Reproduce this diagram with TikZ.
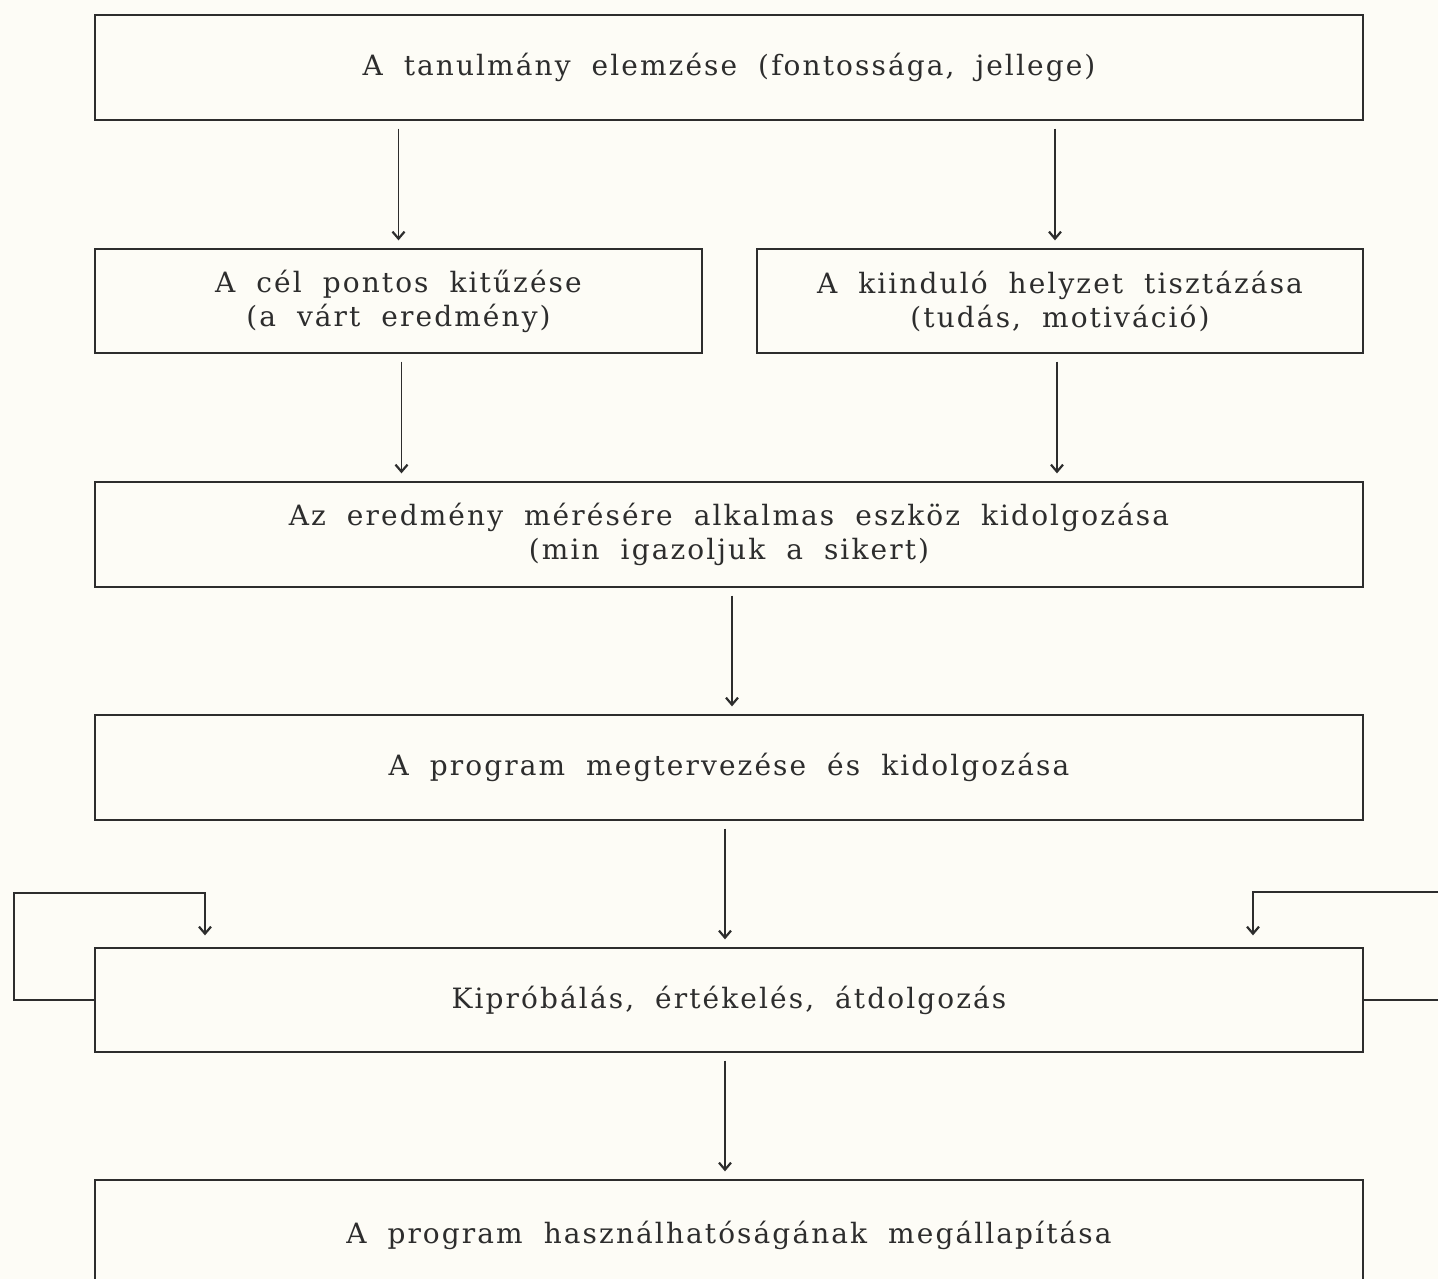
\documentclass[tikz,border=0pt]{standalone}
\usepackage{fontspec}
\setmainfont[LetterSpace=7.5]{DejaVu Serif}
\usetikzlibrary{arrows.meta}
\definecolor{ink}{RGB}{45,45,45}
\definecolor{paper}{RGB}{253,252,246}
\newcommand\bodyfont{\fontsize{28}{34}\selectfont\spaceskip=0.75em plus 0.1em\relax}
\begin{document}
\begin{tikzpicture}[x=1pt,y=-1pt,
  box/.style={draw=ink,line width=1.3pt,inner sep=0pt,font=\bodyfont,align=center,text=ink},
  tip/.style={-{Straight Barb[length=7pt,width=12pt,line width=2.2pt]}},
  conn/.style={draw=ink,line width=1.1pt,tip,shorten <=8pt,shorten >=8pt},
  loop/.style={draw=ink,line width=1.3pt,tip,shorten >=12pt},
]
\useasboundingbox (0,0) rectangle (1438,1279);
\fill[paper] (0,0) rectangle (1438,1279);
\clip (0,0) rectangle (1438,1279);

\node[box,minimum width=1268pt,minimum height=105pt] (b1) at (729,67.5) {A tanulmány elemzése (fontossága, jellege)};
\node[box,minimum width=607pt,minimum height=104pt] (b2) at (398.5,301) {A cél pontos kitűzése\\(a várt eredmény)};
\node[box,minimum width=606pt,minimum height=104pt] (b3) at (1060,301) {A kiinduló helyzet tisztázása\\(tudás, motiváció)};
\node[box,minimum width=1268pt,minimum height=105pt] (b4) at (729,534.5) {Az eredmény mérésére alkalmas eszköz kidolgozása\\(min igazoljuk a sikert)};
\node[box,minimum width=1268pt,minimum height=105pt] (b5) at (729,767.5) {A program megtervezése és kidolgozása};
\node[box,minimum width=1268pt,minimum height=104pt] (b6) at (729,1000) {Kipróbálás, értékelés, átdolgozás};
\node[box,minimum width=1268pt,minimum height=110pt] (b7) at (729,1235) {A program használhatóságának megállapítása};

\draw[conn] (b1.south -| b2.center) -- (b2.north);
\draw[conn] ([xshift=-5pt]b1.south -| b3.center) -- ([xshift=-5pt]b3.north);
\draw[conn] ([xshift=3pt]b2.south) -- ([xshift=3pt]b4.north -| b2.south);
\draw[conn] ([xshift=-3pt]b3.south) -- ([xshift=-3pt]b4.north -| b3.south);
\draw[conn] ([xshift=3pt]b4.south) -- ([xshift=3pt]b5.north);
\draw[conn] ([xshift=-4pt]b5.south) -- ([xshift=-4pt]b6.north);
\draw[conn] ([xshift=-4pt]b6.south) -- ([xshift=-4pt]b7.north);

\coordinate (lc) at (14,893);
\coordinate (la) at (205,893);
\draw[loop] (b6.west) -| (lc) -- (la) -- (la |- b6.north);
\coordinate (rc) at (1460,892);
\coordinate (ra) at (1253,892);
\draw[loop] (b6.east) -| (rc) -- (ra) -- (ra |- b6.north);
\end{tikzpicture}
\end{document}
